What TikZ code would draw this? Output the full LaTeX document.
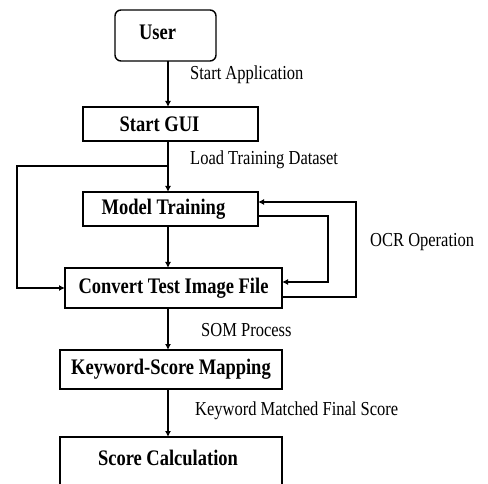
\documentclass[tikz,border=0pt]{standalone}
\usepackage{fontspec}
\usepackage{graphicx}
\setmainfont{Liberation Serif}
\usetikzlibrary{arrows.meta}
\newcommand{\bt}[1]{\scalebox{1}[1.2]{\fontsize{18.5}{20}\selectfont\bfseries #1}}
\newcommand{\lt}[1]{\scalebox{1}[1.2]{\fontsize{16.5}{18}\selectfont #1}}
\begin{document}
\begin{tikzpicture}[x=1pt,y=-1pt,
  box/.style={draw=black,line width=1.4pt,inner sep=0pt,outer sep=0pt},
  arr/.style={line width=1.3pt,-{Latex[length=6pt,width=6pt]}},
  lab/.style={anchor=west,inner sep=0pt}]
\useasboundingbox (0,0) rectangle (488,484);
\node[box,rounded corners=6pt,minimum width=101pt,minimum height=51pt] (user) at (165.5,35.5) {\hspace*{-16pt}\raisebox{7pt}{\bt{User}}};
\node[box,minimum width=175pt,minimum height=34pt] (gui) at (170.5,124) {\hspace*{-22pt}\raisebox{-1pt}{\bt{Start GUI}}};
\node[box,minimum width=175pt,minimum height=34pt] (model) at (170.5,209) {\hspace*{-14pt}\raisebox{-2pt}{\bt{Model Training}}};
\node[box,minimum width=217pt,minimum height=40pt] (conv) at (173.5,288) {\bt{Convert Test Image File}};
\node[box,minimum width=222pt,minimum height=39pt] (kw) at (171,369.5) {\bt{Keyword-Score Mapping}};
\node[box,minimum width=222pt,minimum height=52pt] (score) at (171,463) {\hspace*{-6pt}\raisebox{10pt}{\bt{Score Calculation}}};

\node[lab] (l1) at (190,75) {\lt{Start Application}};
\node[lab] (l2) at (190,160) {\lt{Load Training Dataset}};
\node[lab] (l3) at (370,242) {\lt{OCR Operation}};
\node[lab] (l4) at (201,330) {\lt{SOM Process}};
\node[lab] (l5) at (195,411) {\lt{Keyword Matched Final Score}};

\coordinate (col) at (168,0);
\coordinate (br) at (168,166);
\coordinate (lft) at (17,166);
\coordinate (ia) at (328,216);
\coordinate (ib) at (328,282);
\coordinate (oa) at (356,297);
\coordinate (ob) at (356,202);

\draw[arr] (user.south -| col) -- (gui.north -| col);
\draw[arr] (gui.south -| col) -- (model.north -| col);
\draw[arr] (br) -- (lft) -- (lft |- conv.west) -- (conv.west);
\draw[arr] (model.south -| col) -- (conv.north -| col);
\draw[arr] (model.east |- ia) -- (ia) -- (ib) -- (conv.east |- ib);
\draw[arr] (conv.east |- oa) -- (oa) -- (ob) -- (model.east |- ob);
\draw[arr] (conv.south -| col) -- (kw.north -| col);
\draw[arr] (kw.south -| col) -- (score.north -| col);
\end{tikzpicture}
\end{document}
